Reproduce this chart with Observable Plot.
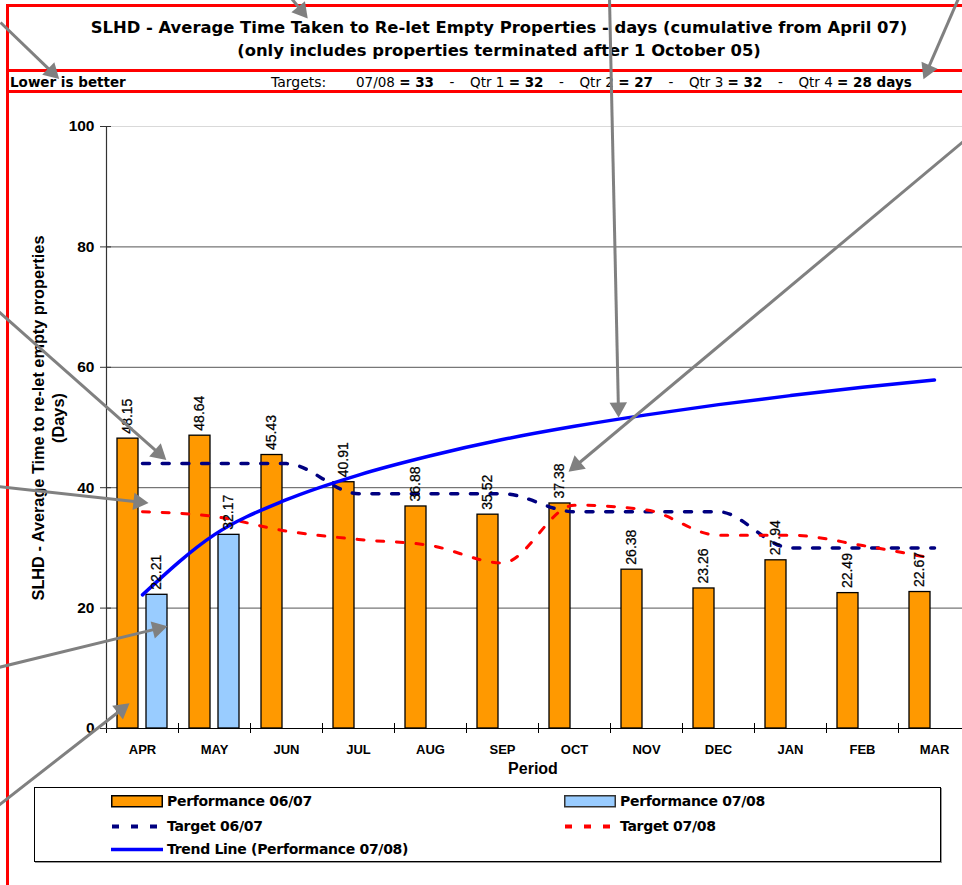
<!DOCTYPE html>
<html><head><meta charset="utf-8">
<script src="https://cdn.jsdelivr.net/npm/d3@7"></script>
<script src="https://cdn.jsdelivr.net/npm/@observablehq/plot@0.6"></script>
<style>
html,body{margin:0;padding:0;background:#fff;overflow:hidden;width:962px;height:885px}
#page{position:relative;width:962px;height:885px;overflow:hidden;background:#fff}
.abs{position:absolute;white-space:nowrap}
.red{position:absolute;background:#ff0000}
.cg{font-family:"DejaVu Sans",sans-serif;color:#000}
.ar{font-family:"Liberation Sans",Arial,sans-serif;color:#000}
#chart svg{position:absolute;left:0;top:0;max-width:none !important}
#arrows{position:absolute;left:0;top:0;pointer-events:none;max-width:none !important}
</style></head><body><div id="page"><div id="chart"></div></div>
<script>
// ---- data ----
const months = ["APR","MAY","JUN","JUL","AUG","SEP","OCT","NOV","DEC","JAN","FEB","MAR"];
const perf0607 = [48.15, 48.64, 45.43, 40.91, 36.88, 35.52, 37.38, 26.38, 23.26, 27.94, 22.49, 22.67];
const perf0708 = [22.21, 32.17];
const target0607 = [44, 44, 44, 39, 39, 39, 36, 36, 36, 30, 30, 30];
const target0708 = [36.0, 35.2, 32.8, 31.4, 30.4, 27.5, 37.1, 36.3, 32.1, 32.1, 30.4, 28.2];
const trend0708 = [22.2, 32.2, 38.0, 42.1, 45.3, 48.0, 50.2, 52.1, 53.8, 55.3, 56.7, 57.9];
const yTicks = [0, 20, 40, 60, 80, 100];
const titleLines = ["SLHD - Average Time Taken to Re-let Empty Properties - days (cumulative from April 07)",
                    "(only includes properties terminated after 1 October 05)"];
const noteText = "Lower is better";
const targetLabels = ["07/08", "Qtr 1", "Qtr 2", "Qtr 3", "Qtr 4"];
const targetValues = [33, 32, 27, 32, 28];
const yTitle = ["SLHD - Average Time to re-let empty properties", "(Days)"];
const xTitle = "Period";
const seriesNames = ["Performance 06/07", "Performance 07/08", "Target 06/07", "Target 07/08", "Trend Line (Performance 07/08)"];
// callout arrows of the source (page pixels)
const calloutFrom = [[0,22],[291,-2],[609,-2],[976,130],[958,-2],[-2,311],[-2,486],[-2,667],[-2,805]];
const calloutTo   = [[55,75],[304,14],[618,412],[572,468],[925,74],[162,456],[143,502],[162,627],[125,706]];

const page = document.getElementById("page");
function el(tag, cls, css, html){const e=document.createElement(tag); if(cls) e.className=cls; if(css) e.style.cssText=css; if(html!=null) e.innerHTML=html; page.appendChild(e); return e;}

// ---- main chart ----
const data = months.map((m,i)=>({month:m, p0607:perf0607[i], p0708:perf0708[i], t0607:target0607[i], t0708:target0708[i], trend:trend0708[i]}));
const cur = data.filter(d=>d.p0708!=null);

const chart = Plot.plot({
  width: 970, height: 790,
  marginLeft: 106, marginRight: 0, marginTop: 126, marginBottom: 62,
  style: {background:"transparent", fontFamily:"Liberation Sans, Arial, sans-serif", overflow:"visible", color:"#000", maxWidth:"none"},
  x: {domain: months, padding: 0, axis: null},
  y: {domain: [0, 100], axis: null},
  marks: [
    Plot.ruleY([100], {stroke:"#d9d9d9", strokeWidth:1}),
    Plot.ruleY(yTicks.filter(v=>v>0 && v<100), {stroke:"#555", strokeWidth:1}),
    Plot.barY(data, {x:"month", y:"p0607", fill:"#FF9900", stroke:"#000", strokeWidth:1.3, insetLeft:11, insetRight:40}),
    Plot.barY(cur, {x:"month", y:"p0708", fill:"#99CCFF", stroke:"#000", strokeWidth:1.3, insetLeft:40, insetRight:11}),
    Plot.line(data, {x:"month", y:"t0607", stroke:"#000080", strokeWidth:3.5, strokeDasharray:"7,12.7", curve:"monotone-x"}),
    Plot.line(data, {x:"month", y:"t0708", stroke:"#FF0000", strokeWidth:3, strokeDasharray:"7,12.7", curve:"monotone-x"}),
    Plot.line(data, {x:"month", y:"trend", stroke:"#0000FF", strokeWidth:3.5, curve:"monotone-x"}),
    Plot.text(data, {x:"month", y:"p0607", text:d=>d.p0607.toFixed(2), rotate:-90, textAnchor:"start", dx:-14.5, dy:-5, fontSize:14, fill:"#000", stroke:"#000", strokeWidth:0.25}),
    Plot.text(cur, {x:"month", y:"p0708", text:d=>d.p0708.toFixed(2), rotate:-90, textAnchor:"start", dx:14.5, dy:-5, fontSize:14, fill:"#000", stroke:"#000", strokeWidth:0.25}),
    Plot.ruleY([0], {stroke:"#000", strokeWidth:1.2}),
    Plot.ruleX([months[0]], {dx:-36, y1:0, y2:100, stroke:"#333", strokeWidth:1.2}),
    Plot.axisX({tickSize:10, dy:-5, dx:-36, tickFormat:()=>"", label:null, stroke:"#000"}),
    Plot.axisX({tickSize:0, tickPadding:16, fontSize:13, fontWeight:"bold", label:null}),
    Plot.axisY({ticks:yTicks, tickSize:11, dx:5, tickPadding:6, fontSize:15.5, fontWeight:"bold", label:null, stroke:"#333"})
  ]
});
document.getElementById("chart").appendChild(chart);

// ---- red frame of the source ----
el("div","red","left:6px;top:4px;width:3px;height:885px");
el("div","red","left:6px;top:4px;width:960px;height:3px");
el("div","red","left:6px;top:69px;width:960px;height:3px");
el("div","red","left:6px;top:90px;width:960px;height:3px");

// ---- titles ----
el("div","abs cg","left:499px;top:27px;transform:translate(-50%,-50%);font-weight:bold;font-size:16.4px", titleLines[0]);
el("div","abs cg","left:499px;top:50px;transform:translate(-50%,-50%);font-weight:bold;font-size:16.4px", titleLines[1]);

// ---- header row ----
el("div","abs cg","left:10px;top:82px;transform:translateY(-50%);font-weight:bold;font-size:13.5px", noteText);
el("div","abs cg","left:271px;top:82px;transform:translateY(-50%);font-size:14px", "Targets:");
const tHtml = targetLabels.map((l,i)=>`<span>${l} <b>= ${targetValues[i]}${i===targetLabels.length-1?" days":""}</b></span>`)
  .join('<span style="display:inline-block;width:36px;text-align:center">-</span>');
el("div","abs cg","left:356px;top:82px;transform:translateY(-50%);font-size:13.5px", tHtml);

// ---- axis titles ----
el("div","abs ar",`left:48px;top:418px;transform:translate(-50%,-50%) rotate(-90deg);text-align:center;font-weight:bold;font-size:16.3px;line-height:20px`, yTitle.join("<br>"));
el("div","abs ar","left:533px;top:769px;transform:translate(-50%,-50%);font-weight:bold;font-size:16px", xTitle);

// ---- legend ----
const lg = el("div","abs","left:34px;top:787px;width:905px;height:73px;border:1px solid #000;box-shadow:1px 1px 0 #999;background:#fff");
const sw = [
  `<svg width="52" height="13"><rect x="0.75" y="0.75" width="50.5" height="11" fill="#FF9900" stroke="#000" stroke-width="1.5"/></svg>`,
  `<svg width="52" height="13"><rect x="0.75" y="0.75" width="50.5" height="11" fill="#99CCFF" stroke="#333" stroke-width="1.5"/></svg>`,
  `<svg width="52" height="13"><line x1="1" y1="6.5" x2="52" y2="6.5" stroke="#000080" stroke-width="4" stroke-dasharray="7,12"/></svg>`,
  `<svg width="52" height="13"><line x1="1" y1="6.5" x2="52" y2="6.5" stroke="#FF0000" stroke-width="4" stroke-dasharray="7,12"/></svg>`,
  `<svg width="52" height="13"><line x1="0" y1="6.5" x2="52" y2="6.5" stroke="#0000FF" stroke-width="3.5"/></svg>`
];
const pos = [[76,13],[529,13],[76,38],[529,38],[76,61]];
seriesNames.forEach((n,i)=>{
  const d=document.createElement("div");
  d.className="cg";
  d.style.cssText=`position:absolute;left:${pos[i][0]}px;top:${pos[i][1]}px;transform:translateY(-50%);display:flex;align-items:center;gap:4px;font-weight:bold;font-size:14px;white-space:nowrap;letter-spacing:-0.3px`;
  d.innerHTML = sw[i] + `<span>${n}</span>`;
  lg.appendChild(d);
});

// ---- callout arrows ----
const callouts = calloutFrom.map((f,i)=>{
  const [x2,y2] = calloutTo[i];
  const dx = x2 - f[0], dy = y2 - f[1], L = Math.hypot(dx,dy);
  return {x1:f[0], y1:f[1], x2, y2, bx:x2 - dx/L*7, by:y2 - dy/L*7, hx:x2 - dx/L*5, hy:y2 - dy/L*5,
          rot: Math.atan2(dx, -dy) * 180 / Math.PI};
});
const arrows = Plot.plot({
  width: 962, height: 885, margin: 0,
  style: {background:"transparent", overflow:"visible", maxWidth:"none"},
  x: {type:"identity", axis:null}, y: {type:"identity", axis:null},
  marks: [
    Plot.link(callouts, {x1:"x1", y1:"y1", x2:"bx", y2:"by", stroke:"#808080", strokeWidth:3}),
    Plot.dot(callouts, {x:"hx", y:"hy", symbol:"triangle", rotate:"rot", r:6.5, fill:"#808080", stroke:"none"})
  ]
});
arrows.id = "arrows";
page.appendChild(arrows);
</script></body></html>
